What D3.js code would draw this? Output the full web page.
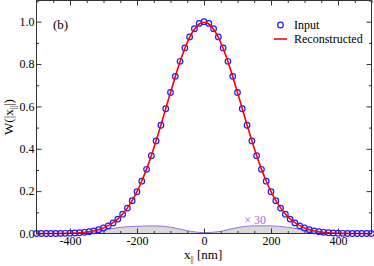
<!DOCTYPE html>
<html>
<head>
<meta charset="utf-8">
<script src="https://cdn.jsdelivr.net/npm/d3@7"></script>
<style>
  body { margin: 0; background: #fff; }
  svg { display: block; }
  svg text { font-family: "Liberation Serif", "Times New Roman", serif; }
</style>
</head>
<body>
<svg id="chart" width="374" height="266"></svg>
<script>
// positions of the sampled points [nm]
var xPos = [-500, -485.7, -471.4, -457.1, -442.9, -428.6, -414.3, -400, -385.7, -371.4,
  -357.1, -342.9, -328.6, -314.3, -300, -285.7, -271.4, -257.1, -242.9, -228.6,
  -214.3, -200, -185.7, -171.4, -157.1, -142.9, -128.6, -114.3, -100, -85.7,
  -71.4, -57.1, -42.9, -28.6, -14.3, 0, 14.3, 28.6, 42.9, 57.1,
  71.4, 85.7, 100, 114.3, 128.6, 142.9, 157.1, 171.4, 185.7, 200,
  214.3, 228.6, 242.9, 257.1, 271.4, 285.7, 300, 314.3, 328.6, 342.9,
  357.1, 371.4, 385.7, 400, 414.3, 428.6, 442.9, 457.1, 471.4, 485.7, 500];

var inputW = [0, 0, 0, 0, 0, 0.0005, 0.0009, 0.0015, 0.0024, 0.0037,
  0.0057, 0.0085, 0.0125, 0.018, 0.026, 0.036, 0.050, 0.068, 0.091, 0.120,
  0.155, 0.197, 0.247, 0.303, 0.367, 0.437, 0.511, 0.589, 0.666, 0.742,
  0.813, 0.876, 0.928, 0.967, 0.992, 1.000, 0.992, 0.967, 0.928, 0.876,
  0.813, 0.742, 0.666, 0.589, 0.511, 0.437, 0.367, 0.303, 0.247, 0.197,
  0.155, 0.120, 0.091, 0.068, 0.050, 0.036, 0.026, 0.018, 0.0125, 0.0085,
  0.0057, 0.0037, 0.0024, 0.0015, 0.0009, 0.0005, 0, 0, 0, 0, 0];

var reconW = [0, 0, 0, 0, 0, 0.0004, 0.0008, 0.0014, 0.0022, 0.0036,
  0.0057, 0.0086, 0.0128, 0.0185, 0.0265, 0.037, 0.051, 0.069, 0.092, 0.121,
  0.156, 0.198, 0.248, 0.304, 0.368, 0.438, 0.512, 0.589, 0.666, 0.741,
  0.812, 0.874, 0.926, 0.964, 0.989, 0.997, 0.989, 0.964, 0.926, 0.874,
  0.812, 0.741, 0.666, 0.589, 0.512, 0.438, 0.368, 0.304, 0.248, 0.198,
  0.156, 0.121, 0.092, 0.069, 0.051, 0.037, 0.0265, 0.0185, 0.0128, 0.0086,
  0.0057, 0.0036, 0.0022, 0.0014, 0.0008, 0.0004, 0, 0, 0, 0, 0];

// difference curve, magnified x30
var diffX = [-400, -350, -300, -250, -200, -150, -100, -50, 0, 50, 100, 150, 200, 250, 300, 350, 400];
var diffW = [0, 0.003, 0.016, 0.029, 0.034, 0.036, 0.030, 0.013, 0.004, 0.010, 0.028, 0.036, 0.036, 0.029, 0.016, 0.003, 0];

var xMajor = [-400, -200, 0, 200, 400];
var xMinor = [-500, -450, -350, -300, -250, -150, -100, -50, 50, 100, 150, 250, 300, 350, 450, 500];
var yMajor = [0, 0.2, 0.4, 0.6, 0.8, 1.0];
var yMinor = [0.1, 0.3, 0.5, 0.7, 0.9, 1.1];

var svg = d3.select("#chart"),
    mLeft = 36.5, mRight = 371.5, mTop = 0.5, mBottom = 233.5;

var x = d3.scaleLinear().domain([-500, 500]).range([mLeft, mRight]);
var y = d3.scaleLinear().domain([0, 1.1]).range([mBottom, mTop]);

var pts = xPos.map(function(d, i) { return {x: d, a: inputW[i], b: reconW[i]}; });
var diff = diffX.map(function(d, i) { return {x: d, v: diffW[i]}; });

// magnified difference, shaded
svg.append("path")
  .datum(diff)
  .attr("fill", "#d9d9d9")
  .attr("d", d3.area().x(function(d) { return x(d.x); }).y0(y(0)).y1(function(d) { return y(d.v); })
    .curve(d3.curveMonotoneX));
svg.append("path")
  .datum(diff)
  .attr("fill", "none")
  .attr("stroke", "#9a6ee0")
  .attr("stroke-width", 1)
  .attr("d", d3.line().x(function(d) { return x(d.x); }).y(function(d) { return y(d.v); })
    .curve(d3.curveMonotoneX));

svg.append("text")
  .attr("x", x(120)).attr("y", 224)
  .attr("font-size", 12).attr("fill", "#9a6ee0")
  .text("\u00d7 30");

// axes, ticks inward
function noDomain(g) {
  g.attr("font-family", null);
  g.select(".domain").remove();
  g.selectAll(".tick line").attr("stroke", "#333");
}
var plain = function(d) { return String(d); };

svg.append("g").attr("transform", "translate(0," + mBottom + ")")
  .call(d3.axisBottom(x).tickValues(xMajor).tickSize(-5).tickPadding(3).tickFormat(plain))
  .call(noDomain)
  .selectAll("text").attr("font-size", 12).attr("fill", "#000");
svg.append("g").attr("transform", "translate(0," + mBottom + ")")
  .call(d3.axisBottom(x).tickValues(xMinor).tickSize(-2.5).tickFormat(""))
  .call(noDomain);
svg.append("g").attr("transform", "translate(0," + mTop + ")")
  .call(d3.axisTop(x).tickValues(xMajor).tickSize(-5).tickFormat(""))
  .call(noDomain);
svg.append("g").attr("transform", "translate(0," + mTop + ")")
  .call(d3.axisTop(x).tickValues(xMinor).tickSize(-2.5).tickFormat(""))
  .call(noDomain);

svg.append("g").attr("transform", "translate(" + mLeft + ",0)")
  .call(d3.axisLeft(y).tickValues(yMajor).tickSize(-5).tickPadding(2).tickFormat(d3.format(".1f")))
  .call(noDomain)
  .selectAll("text").attr("font-size", 12).attr("fill", "#000");
svg.append("g").attr("transform", "translate(" + mLeft + ",0)")
  .call(d3.axisLeft(y).tickValues(yMinor).tickSize(-2.5).tickFormat(""))
  .call(noDomain);
svg.append("g").attr("transform", "translate(" + mRight + ",0)")
  .call(d3.axisRight(y).tickValues(yMajor).tickSize(-5).tickFormat(""))
  .call(noDomain);
svg.append("g").attr("transform", "translate(" + mRight + ",0)")
  .call(d3.axisRight(y).tickValues(yMinor).tickSize(-2.5).tickFormat(""))
  .call(noDomain);

// input points and reconstruction
svg.append("g").selectAll("circle")
  .data(pts).enter().append("circle")
  .attr("cx", function(d) { return x(d.x); })
  .attr("cy", function(d) { return y(d.a); })
  .attr("r", 2.8)
  .attr("fill", "none")
  .attr("stroke", "#1a1aff")
  .attr("stroke-width", 1.2);

svg.append("path")
  .datum(pts)
  .attr("fill", "none")
  .attr("stroke", "#ff0000")
  .attr("stroke-width", 1.6)
  .attr("d", d3.line().x(function(d) { return x(d.x); }).y(function(d) { return y(d.b); })
    .curve(d3.curveMonotoneX));

// frame
svg.append("rect")
  .attr("x", mLeft).attr("y", mTop)
  .attr("width", mRight - mLeft).attr("height", mBottom - mTop)
  .attr("fill", "none").attr("stroke", "#333").attr("stroke-width", 1);

// labels
svg.append("text").attr("x", 53).attr("y", 29).attr("font-size", 13).text("(b)");

var lg = svg.append("g").attr("font-size", 12);
lg.append("circle").attr("cx", 280.5).attr("cy", 25).attr("r", 2.8)
  .attr("fill", "none").attr("stroke", "#1a1aff").attr("stroke-width", 1.2);
lg.append("text").attr("x", 294).attr("y", 29).text("Input");
lg.append("line").attr("x1", 274).attr("x2", 287).attr("y1", 39).attr("y2", 39)
  .attr("stroke", "#ff0000").attr("stroke-width", 1.6);
lg.append("text").attr("x", 294).attr("y", 43).text("Reconstructed");

var xl = svg.append("text").attr("x", 184).attr("y", 259).attr("font-size", 13);
xl.append("tspan").text("x");
xl.append("tspan").attr("font-size", 8).attr("dy", 3).text("||");
xl.append("tspan").attr("dy", -3).text(" [nm]");

var yl = svg.append("text")
  .attr("transform", "translate(13," + ((mTop + mBottom) / 2) + ") rotate(-90)")
  .attr("text-anchor", "middle").attr("font-size", 13);
yl.append("tspan").text("W(|x");
yl.append("tspan").attr("font-size", 8).attr("dy", 3).text("||");
yl.append("tspan").attr("dy", -3).text("|)");
</script>
</body>
</html>
